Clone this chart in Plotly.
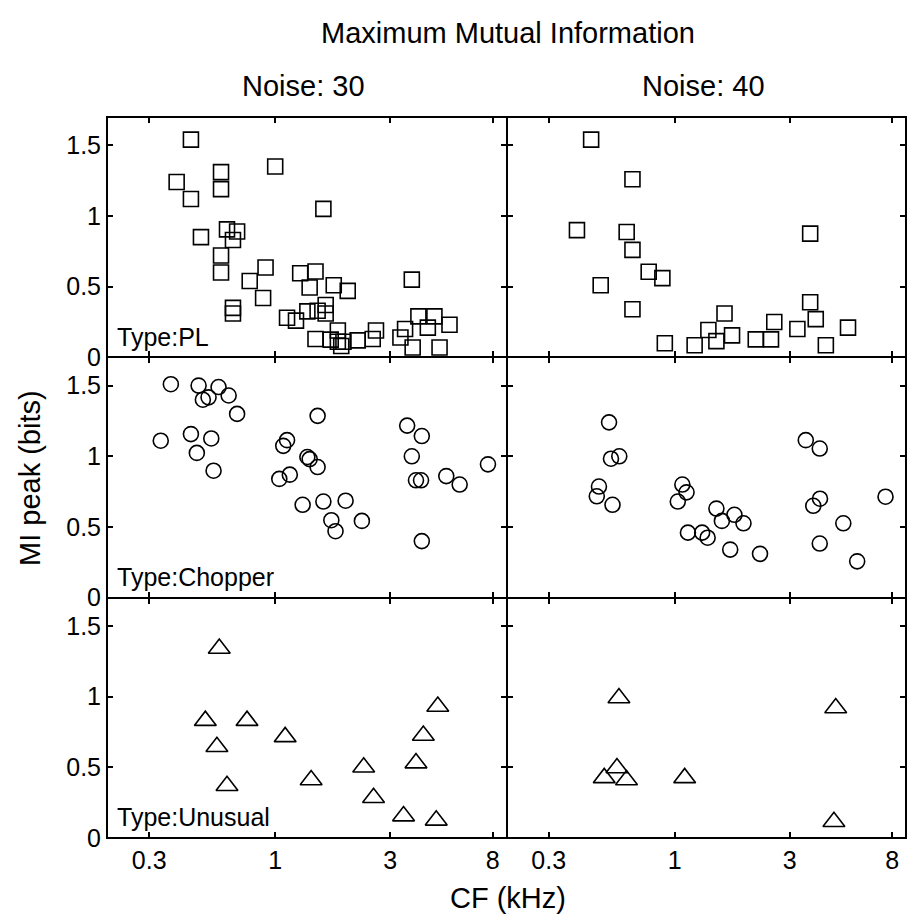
import plotly.graph_objects as go

# ---- data: CF (kHz) and peak mutual information (bits) per unit type / noise level ----
pl_n30_cf = [0.447, 0.39, 0.447, 0.596, 0.596, 1.0, 1.585, 0.492, 0.631, 0.695, 0.668,
             0.596, 0.596, 0.668, 0.668, 0.784, 0.912, 0.891, 1.27, 1.47, 1.39, 1.75, 2.0,
             1.12, 1.22, 1.36, 1.50, 1.62, 1.62, 1.47, 1.70, 1.82, 1.82, 1.92, 1.88, 2.2,
             2.54, 2.62, 3.31, 3.46, 3.72, 3.69, 3.93, 4.58, 4.3, 5.29, 4.81]
pl_n30_mi = [1.54, 1.24, 1.12, 1.31, 1.19, 1.35, 1.05, 0.85, 0.905, 0.89, 0.83,
             0.72, 0.60, 0.35, 0.31, 0.54, 0.635, 0.42, 0.595, 0.607, 0.494, 0.51, 0.47,
             0.28, 0.26, 0.325, 0.33, 0.37, 0.31, 0.13, 0.125, 0.19, 0.11, 0.11, 0.08, 0.12,
             0.13, 0.19, 0.14, 0.20, 0.07, 0.55, 0.29, 0.29, 0.21, 0.23, 0.07]

pl_n40_cf = [0.45, 0.668, 0.393, 0.632, 0.668, 0.78, 0.889, 0.493, 0.668, 3.65, 3.65,
             3.85, 3.23, 2.59, 2.51, 2.17, 1.73, 1.61, 1.38, 1.49, 1.21, 0.91, 4.24, 5.24]
pl_n40_mi = [1.54, 1.26, 0.90, 0.887, 0.76, 0.605, 0.56, 0.51, 0.34, 0.875, 0.39,
             0.27, 0.20, 0.25, 0.127, 0.127, 0.155, 0.31, 0.193, 0.115, 0.085, 0.10, 0.085, 0.21]

ch_n30_cf = [0.369, 0.481, 0.582, 0.501, 0.529, 0.641, 0.695, 0.335, 0.447, 0.543, 0.473,
             0.555, 1.50, 1.12, 1.08, 1.36, 1.39, 1.50, 1.04, 1.15, 1.30, 1.585, 1.96,
             1.71, 1.78, 2.29, 3.53, 4.06, 3.69, 3.84, 4.03, 5.13, 5.83, 7.64, 4.06]
ch_n30_mi = [1.51, 1.50, 1.49, 1.40, 1.417, 1.43, 1.30, 1.11, 1.157, 1.126, 1.024,
             0.898, 1.286, 1.114, 1.074, 0.995, 0.98, 0.924, 0.84, 0.87, 0.657, 0.68, 0.686,
             0.548, 0.47, 0.543, 1.217, 1.143, 1.0, 0.83, 0.83, 0.86, 0.80, 0.943, 0.40]

ch_n40_cf = [0.534, 0.544, 0.589, 0.485, 0.475, 0.552, 1.076, 1.12, 1.03, 1.135, 1.30,
             1.37, 1.49, 1.57, 1.77, 1.93, 1.70, 2.26, 3.50, 4.0, 4.01, 3.76, 4.0, 5.01,
             5.72, 7.5]
ch_n40_mi = [1.24, 0.983, 1.0, 0.786, 0.717, 0.657, 0.80, 0.745, 0.68, 0.46, 0.46,
             0.424, 0.63, 0.543, 0.586, 0.526, 0.34, 0.31, 1.114, 1.055, 0.70, 0.65, 0.383,
             0.526, 0.257, 0.714]

un_n30_cf = [0.586, 0.513, 0.764, 0.573, 0.631, 1.10, 1.41, 2.33, 2.56, 4.73, 4.12,
             3.84, 3.41, 4.66]
un_n30_mi = [1.34, 0.83, 0.83, 0.645, 0.37, 0.715, 0.41, 0.50, 0.285, 0.93, 0.725,
             0.53, 0.155, 0.125]

un_n40_cf = [0.587, 0.576, 0.51, 0.631, 1.10, 4.66, 4.58]
un_n40_mi = [0.99, 0.495, 0.425, 0.41, 0.425, 0.92, 0.115]

cf_ticks = [0.3, 1, 3, 8]
cf_ticklabels = ["0.3", "1", "3", "8"]
mi_ticks = [0, 0.5, 1, 1.5]
mi_ticklabels = ["0", "0.5", "1", "1.5"]

noise_titles = ["Noise: 30", "Noise: 40"]
type_labels = ["Type:PL", "Type:Chopper", "Type:Unusual"]

panels = [
    [(pl_n30_cf, pl_n30_mi), (pl_n40_cf, pl_n40_mi)],
    [(ch_n30_cf, ch_n30_mi), (ch_n40_cf, ch_n40_mi)],
    [(un_n30_cf, un_n30_mi), (un_n40_cf, un_n40_mi)],
]
row_symbols = ["square-open", "circle-open", "triangle-up-open"]
row_sizes = [15, 15, 19]

# ---- figure geometry (pixels) ----
W, H = 916, 920
ML, MR, MT, MB = 107, 10, 117, 82
PW, PH = W - ML - MR, H - MT - MB


def px(x):
    return (x - ML) / PW


def py(y):
    return (H - MB - y) / PH


FONT = "Liberation Sans, Arial, sans-serif"

fig = go.Figure()
layout = dict(
    width=W, height=H,
    margin=dict(l=ML, r=MR, t=MT, b=MB, pad=0),
    paper_bgcolor="white", plot_bgcolor="white",
    showlegend=False,
    font=dict(family=FONT, color="black", size=25),
)

for r in range(3):
    for c in range(2):
        i = r * 2 + c + 1
        xs, ys = panels[r][c]
        fig.add_trace(go.Scatter(
            x=xs, y=ys, mode="markers",
            xaxis=f"x{i}", yaxis=f"y{i}",
            marker=dict(symbol=row_symbols[r], size=row_sizes[r], color="black",
                        line=dict(width=1.6, color="black")),
            hoverinfo="x+y",
        ))
        xkey = "xaxis" if i == 1 else f"xaxis{i}"
        ykey = "yaxis" if i == 1 else f"yaxis{i}"
        layout[xkey] = dict(
            domain=[c * 0.5, (c + 1) * 0.5], anchor=f"y{i}",
            type="log", range=[-0.698, 0.96],
            tickvals=cf_ticks, ticktext=cf_ticklabels,
            showticklabels=(r == 2),
            ticks="inside", ticklen=6, tickwidth=1.5, tickcolor="black",
            showline=True, linecolor="black", linewidth=1, mirror="ticks",
            showgrid=False, zeroline=False,
            tickfont=dict(size=25, family=FONT),
        )
        layout[ykey] = dict(
            domain=[(2 - r) / 3, (3 - r) / 3], anchor=f"x{i}",
            range=[0, 1.7],
            tickvals=mi_ticks, ticktext=mi_ticklabels,
            showticklabels=(c == 0),
            ticks="inside", ticklen=6, tickwidth=1.5, tickcolor="black",
            showline=True, linecolor="black", linewidth=1, mirror="ticks",
            showgrid=False, zeroline=False,
            tickfont=dict(size=25, family=FONT),
        )

# outer frame around the whole 3x2 grid
layout["shapes"] = [dict(type="rect", xref="paper", yref="paper", x0=0, x1=1, y0=0, y1=1,
                         line=dict(color="black", width=2), layer="above")]

annotations = []
# overall title and column headings
annotations.append(dict(text="Maximum Mutual Information", x=px(508), y=py(33),
                        font=dict(size=29)))
annotations.append(dict(text=noise_titles[0], x=px(303), y=py(86), font=dict(size=29)))
annotations.append(dict(text=noise_titles[1], x=px(703), y=py(86), font=dict(size=29)))
# axis titles
annotations.append(dict(text="MI peak (bits)", x=px(30), y=py(478), textangle=-90,
                        font=dict(size=29)))
annotations.append(dict(text="CF (kHz)", x=px(508), y=py(898), font=dict(size=29)))
# unit type labels inside the left column
for r, lab in enumerate(type_labels):
    annotations.append(dict(text=lab, x=px(115), y=py(337 + r * 240), xanchor="left",
                            font=dict(size=25)))

for a in annotations:
    a.setdefault("xanchor", "center")
    a.update(xref="paper", yref="paper", yanchor="middle", showarrow=False)
layout["annotations"] = annotations

fig.update_layout(**layout)
fig.write_html("out.html")
